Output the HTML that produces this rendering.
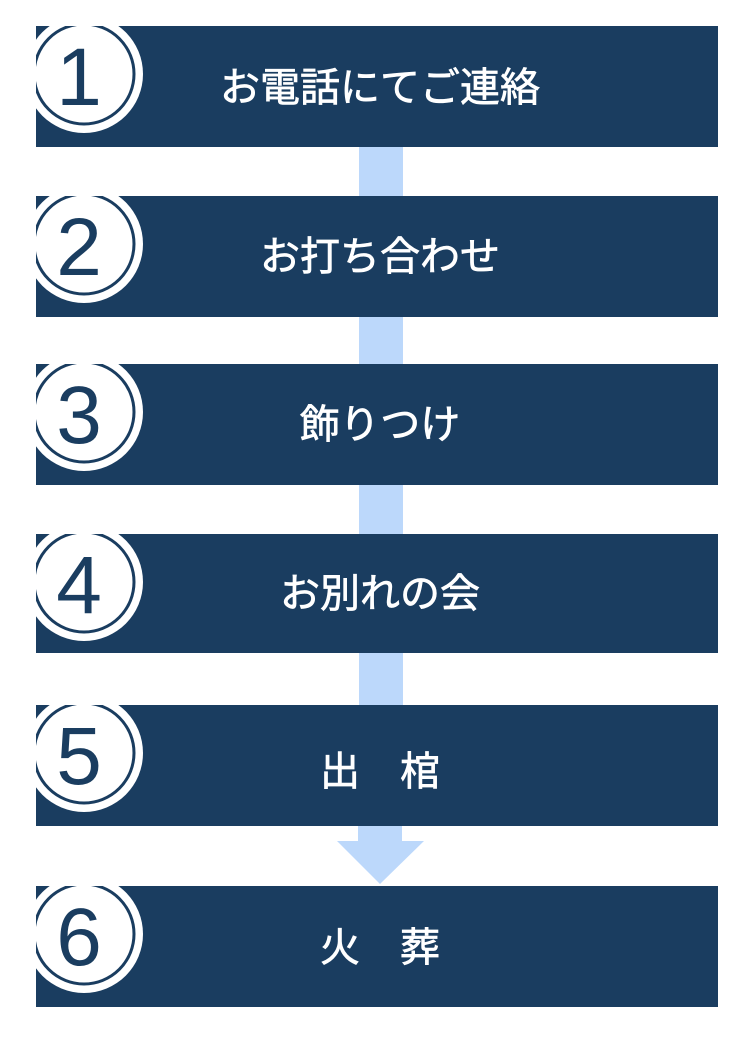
<!DOCTYPE html>
<html><head><meta charset="utf-8"><style>
body{margin:0;width:740px;height:1034px;background:#fff;overflow:hidden;font-family:"Liberation Sans","Noto Sans CJK JP",sans-serif}
</style></head><body>
<svg width="740" height="1034" xmlns="http://www.w3.org/2000/svg">
<defs>
<clipPath id="c"><rect x="36" y="0" width="682" height="121"/></clipPath>
</defs>
<g fill="#bcd8fb">
<rect x="359" y="147" width="44" height="50"/>
<rect x="359" y="317" width="44" height="48"/>
<rect x="359" y="485" width="44" height="50"/>
<rect x="359" y="653" width="44" height="53"/>
<rect x="358" y="826" width="44" height="16"/>
<polygon points="337,841 424,841 380,884"/>
</g>
<g font-family="Liberation Sans, Noto Sans CJK JP, sans-serif">
<g transform="translate(0,26)">
<g clip-path="url(#c)">
<rect x="36" y="0" width="682" height="121" fill="#1a3d60"/>
<circle cx="84" cy="48" r="59" fill="#fff"/>
<circle cx="84" cy="48" r="50" fill="none" stroke="#1a3d60" stroke-width="3"/>
</g>
<text x="79" y="79" font-size="82" fill="#1a3d60" text-anchor="middle">1</text>
<text x="380" y="75" font-size="40" fill="#fff" stroke="#fff" stroke-width="0.7" text-anchor="middle">お電話にてご連絡</text>
</g>
<g transform="translate(0,196)">
<g clip-path="url(#c)">
<rect x="36" y="0" width="682" height="121" fill="#1a3d60"/>
<circle cx="84" cy="48" r="59" fill="#fff"/>
<circle cx="84" cy="48" r="50" fill="none" stroke="#1a3d60" stroke-width="3"/>
</g>
<text x="79" y="79" font-size="82" fill="#1a3d60" text-anchor="middle">2</text>
<text x="380" y="74" font-size="40" fill="#fff" stroke="#fff" stroke-width="0.7" text-anchor="middle">お打ち合わせ</text>
</g>
<g transform="translate(0,364)">
<g clip-path="url(#c)">
<rect x="36" y="0" width="682" height="121" fill="#1a3d60"/>
<circle cx="84" cy="48" r="59" fill="#fff"/>
<circle cx="84" cy="48" r="50" fill="none" stroke="#1a3d60" stroke-width="3"/>
</g>
<text x="79" y="79" font-size="82" fill="#1a3d60" text-anchor="middle">3</text>
<text x="380" y="74" font-size="40" fill="#fff" stroke="#fff" stroke-width="0.7" text-anchor="middle">飾りつけ</text>
</g>
<g transform="translate(0,534)">
<g clip-path="url(#c)">
<rect x="36" y="0" width="682" height="119" fill="#1a3d60"/>
<circle cx="84" cy="48" r="59" fill="#fff"/>
<circle cx="84" cy="48" r="50" fill="none" stroke="#1a3d60" stroke-width="3"/>
</g>
<text x="79" y="79" font-size="82" fill="#1a3d60" text-anchor="middle">4</text>
<text x="380" y="73" font-size="40" fill="#fff" stroke="#fff" stroke-width="0.7" text-anchor="middle">お別れの会</text>
</g>
<g transform="translate(0,705)">
<g clip-path="url(#c)">
<rect x="36" y="0" width="682" height="121" fill="#1a3d60"/>
<circle cx="84" cy="48" r="59" fill="#fff"/>
<circle cx="84" cy="48" r="50" fill="none" stroke="#1a3d60" stroke-width="3"/>
</g>
<text x="79" y="79" font-size="82" fill="#1a3d60" text-anchor="middle">5</text>
<text x="380" y="80" font-size="40" fill="#fff" stroke="#fff" stroke-width="0.7" text-anchor="middle" xml:space="preserve">出　棺</text>
</g>
<g transform="translate(0,886)">
<g clip-path="url(#c)">
<rect x="36" y="0" width="682" height="121" fill="#1a3d60"/>
<circle cx="84" cy="48" r="59" fill="#fff"/>
<circle cx="84" cy="48" r="50" fill="none" stroke="#1a3d60" stroke-width="3"/>
</g>
<text x="79" y="79" font-size="82" fill="#1a3d60" text-anchor="middle">6</text>
<text x="380" y="75" font-size="40" fill="#fff" stroke="#fff" stroke-width="0.7" text-anchor="middle" xml:space="preserve">火　葬</text>
</g>
</g>
</svg>
</body></html>
